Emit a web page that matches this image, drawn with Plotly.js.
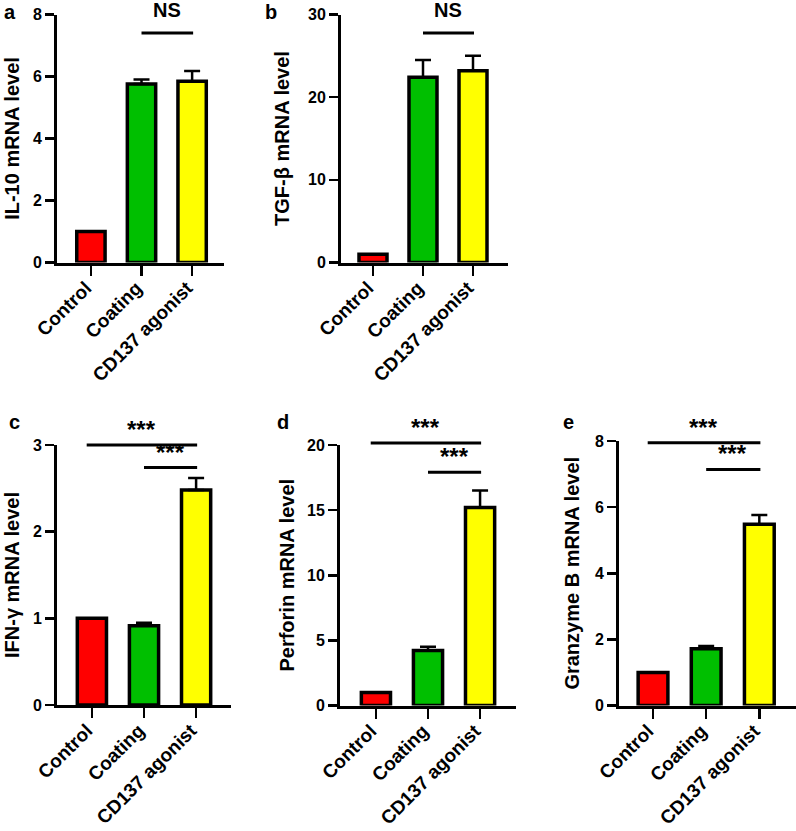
<!DOCTYPE html>
<html>
<head>
<meta charset="utf-8">
<script src="https://cdn.plot.ly/plotly-3.0.1.min.js"></script>
<style>html,body{margin:0;padding:0;background:#fff;}#chart{width:796px;height:831px;}</style>
</head>
<body>
<div id="chart"></div>
<script>
// ---------- data ----------
const categories = ['Control', 'Coating', 'CD137 agonist'];
const barColors = ['#FF0000', '#00BF00', '#FFFF00'];

const il10Values = [1.0, 5.76, 5.85];
const il10Errors = [0, 0.14, 0.33];
const tgfbValues = [1.0, 22.4, 23.2];
const tgfbErrors = [0, 2.1, 1.8];
const ifngValues = [1.0, 0.915, 2.48];
const ifngErrors = [0, 0.035, 0.14];
const perforinValues = [1.0, 4.22, 15.2];
const perforinErrors = [0, 0.3, 1.3];
const granzymeValues = [1.0, 1.72, 5.48];
const granzymeErrors = [0, 0.08, 0.28];

const panelLetters = ['a', 'b', 'c', 'd', 'e'];
const yTitles = ['IL-10 mRNA level', 'TGF-β mRNA level', 'IFN-γ mRNA level', 'Perforin mRNA level', 'Granzyme B mRNA level'];
const yMax = [8, 30, 3, 20, 8];
const yDtick = [2, 10, 1, 5, 2];

// significance brackets: [from category index, to category index, level (data units), label]
const sigA = [[1, 2, 7.4, 'NS']];
const sigB = [[1, 2, 27.75, 'NS']];
const sigC = [[0, 2, 3.0, '***'], [1, 2, 2.74, '***']];
const sigD = [[0, 2, 20.15, '***'], [1, 2, 17.9, '***']];
const sigE = [[0, 2, 7.95, '***'], [1, 2, 7.14, '***']];

// ---------- layout geometry (pixels) ----------
const W = 796, H = 831;
// [left, right, top, bottom] of each plot area
const boxes = [
  [57, 224, 14.5, 262.5],
  [341, 508, 14.5, 262.5],
  [57, 231, 445, 705],
  [340, 516, 445, 705.5],
  [619, 796, 441, 705.5]
];
const xRanges = [[-0.67, 2.63], [-0.64, 2.7], [-0.67, 2.67], [-0.69, 2.69], [-0.64, 2.69]];
const titleStandoff = [8, 14, 8, 8, 10];
const letterPos = [[10, 12], [271, 12], [14, 422], [283, 422], [568, 422]];

const values = [il10Values, tgfbValues, ifngValues, perforinValues, granzymeValues];
const errors = [il10Errors, tgfbErrors, ifngErrors, perforinErrors, granzymeErrors];
const sigs = [sigA, sigB, sigC, sigD, sigE];

const FONT = 'Liberation Sans, Arial, sans-serif';
const traces = [];
const layout = {
  width: W, height: H,
  margin: {l: 0, r: 0, t: 0, b: 0},
  paper_bgcolor: '#fff', plot_bgcolor: '#fff',
  showlegend: false,
  font: {family: FONT, color: '#000', weight: 'bold'},
  shapes: [], annotations: []
};

for (let i = 0; i < 5; i++) {
  const n = i === 0 ? '' : String(i + 1);
  const b = boxes[i];
  traces.push({
    type: 'bar',
    x: categories,
    y: values[i],
    xaxis: 'x' + n, yaxis: 'y' + n,
    width: 0.56,
    marker: {color: barColors, line: {color: '#000', width: 3.5}},
    error_y: {type: 'data', array: errors[i], arrayminus: [0, 0, 0], symmetric: false,
              color: '#000', thickness: 2.5, width: 8},
    hoverinfo: 'none'
  });
  layout['xaxis' + n] = {
    type: 'category', domain: [b[0] / W, b[1] / W], anchor: 'y' + n,
    range: xRanges[i], showline: true, linewidth: 3, linecolor: '#000',
    ticks: 'outside', ticklen: 10, tickwidth: 2.5, tickcolor: '#000',
    tickangle: -45, ticklabelshift: -5, ticklabelstandoff: -6,
    tickfont: {family: FONT, size: 19, weight: 'bold', color: '#000'},
    showgrid: false, zeroline: false, fixedrange: true
  };
  layout['yaxis' + n] = {
    domain: [1 - b[3] / H, 1 - b[2] / H], anchor: 'x' + n,
    range: [0, yMax[i]], dtick: yDtick[i], tick0: 0,
    showline: true, linewidth: 3, linecolor: '#000',
    ticks: 'outside', ticklen: 9, tickwidth: 2.5, tickcolor: '#000',
    tickfont: {family: FONT, size: 16, weight: 'bold', color: '#000'},
    title: {text: yTitles[i], font: {family: FONT, size: 20, weight: 'bold', color: '#000'}, standoff: titleStandoff[i]},
    showgrid: false, zeroline: false, fixedrange: true
  };
  sigs[i].forEach(function (s) {
    const x0 = s[0] === 0 ? s[0] - 0.1 : s[0];
    const yd = s[2] / yMax[i];
    layout.shapes.push({type: 'line', xref: 'x' + n, yref: 'y' + n + ' domain',
      x0: x0, x1: s[1] + 0.02, y0: yd, y1: yd, line: {color: '#000', width: 3}});
    layout.annotations.push({xref: 'x' + n, yref: 'y' + n + ' domain',
      x: (x0 + s[1]) / 2, y: yd, text: s[3], showarrow: false,
      xanchor: 'center', yanchor: 'bottom', yshift: s[3] === 'NS' ? 10 : 0,
      font: {family: FONT, size: s[3] === 'NS' ? 20 : 24, weight: 'bold', color: '#000'}});
  });
  layout.annotations.push({xref: 'paper', yref: 'paper',
    x: letterPos[i][0] / W, y: 1 - letterPos[i][1] / H, text: panelLetters[i], showarrow: false,
    xanchor: 'center', yanchor: 'middle',
    font: {family: FONT, size: 20, weight: 'bold', color: '#000'}});
}

Plotly.newPlot('chart', traces, layout, {displayModeBar: false, staticPlot: true});
</script>
</body>
</html>
